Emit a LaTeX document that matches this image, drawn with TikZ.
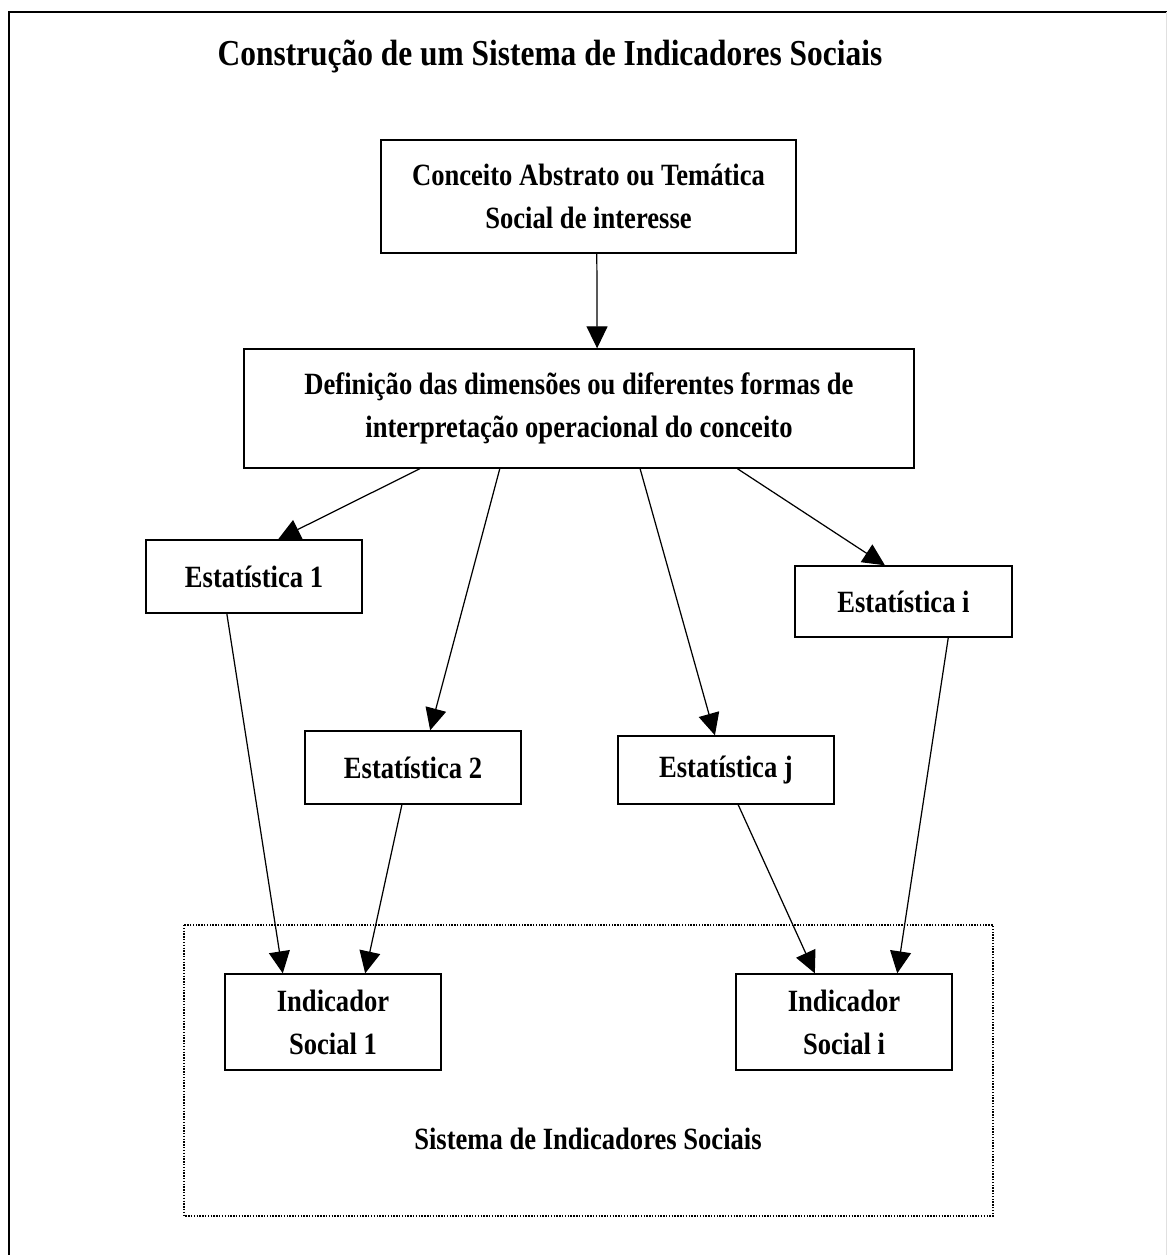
\documentclass[tikz,border=0pt]{standalone}
\usepackage{fontspec}
\setmainfont{Liberation Serif}[FakeStretch=0.86]
\usetikzlibrary{positioning}
\usetikzlibrary{arrows.meta, calc}

\begin{document}
\begin{tikzpicture}[x=0.02cm,y=-0.02cm,
  caixa/.style={draw,line width=0.8pt,align=center,inner sep=0pt,font=\fontsize{17.6}{24.5}\selectfont\bfseries},
  seta/.style={-{Triangle[length=0.44cm,width=0.42cm]},line width=0.7pt}]
\useasboundingbox (0,0) rectangle (1167,1255);
\draw[line width=1.1pt] (9,1255) -- (9,12) -- (1167,12);
\draw[black!12,very thin] (1166,12) -- (1166,1255);

\node[font=\fontsize{20.8}{24}\selectfont\bfseries] (titulo) at (550,57) {Construção de um Sistema de Indicadores Sociais};

\node[caixa,minimum width=8.3cm,minimum height=2.26cm] (conceito) at (588.5,196.5) {Conceito Abstrato ou Temática\\Social de interesse};
\node[caixa,minimum width=13.4cm,minimum height=2.38cm] (definicao) at (579,408.5) {Definição das dimensões ou diferentes formas de\\interpretação operacional do conceito};
\node[caixa,minimum width=4.32cm,minimum height=1.46cm] (est1) at (254,576.5) {Estatística 1};
\node[caixa,minimum width=4.34cm,minimum height=1.42cm] (esti) at (903.5,601.5) {Estatística i};
\node[caixa,minimum width=4.32cm,minimum height=1.46cm] (est2) at (413,767.5) {Estatística 2};
\node[caixa,minimum width=4.32cm,minimum height=1.36cm] (estj) at (726,770) {Estatística j};
\node[caixa,minimum width=4.32cm,minimum height=1.92cm] (ind1) at (333,1022) {Indicador\\Social 1};
\node[caixa,minimum width=4.32cm,minimum height=1.92cm] (indi) at (844,1022) {Indicador\\Social i};

\draw[dash pattern=on 0.8pt off 0.8pt,line width=0.8pt] (184,925) rectangle (993,1216);
\node[font=\fontsize{17.6}{20}\selectfont\bfseries] (sistema) at (588,1139) {Sistema de Indicadores Sociais};

\draw[seta] ($(conceito.south west)!0.52!(conceito.south east)$) -- ($(definicao.north west)!0.527!(definicao.north east)$);
\draw[seta] ($(definicao.south west)!0.263!(definicao.south east)$) -- ($(est1.north west)!0.611!(est1.north east)$);
\draw[seta] ($(definicao.south west)!0.382!(definicao.south east)$) -- ($(est2.north west)!0.579!(est2.north east)$);
\draw[seta] ($(definicao.south west)!0.591!(definicao.south east)$) -- ($(estj.north west)!0.449!(estj.north east)$);
\draw[seta] ($(definicao.south west)!0.736!(definicao.south east)$) -- ($(esti.north west)!0.415!(esti.north east)$);
\draw[seta] ($(est1.south west)!0.375!(est1.south east)$) -- ($(ind1.north west)!0.269!(ind1.north east)$);
\draw[seta] ($(est2.south west)!0.449!(est2.south east)$) -- ($(ind1.north west)!0.648!(ind1.north east)$);
\draw[seta] ($(estj.south west)!0.556!(estj.south east)$) -- ($(indi.north west)!0.366!(indi.north east)$);
\draw[seta] ($(esti.south west)!0.705!(esti.south east)$) -- ($(indi.north west)!0.745!(indi.north east)$);

\end{tikzpicture}
\end{document}
